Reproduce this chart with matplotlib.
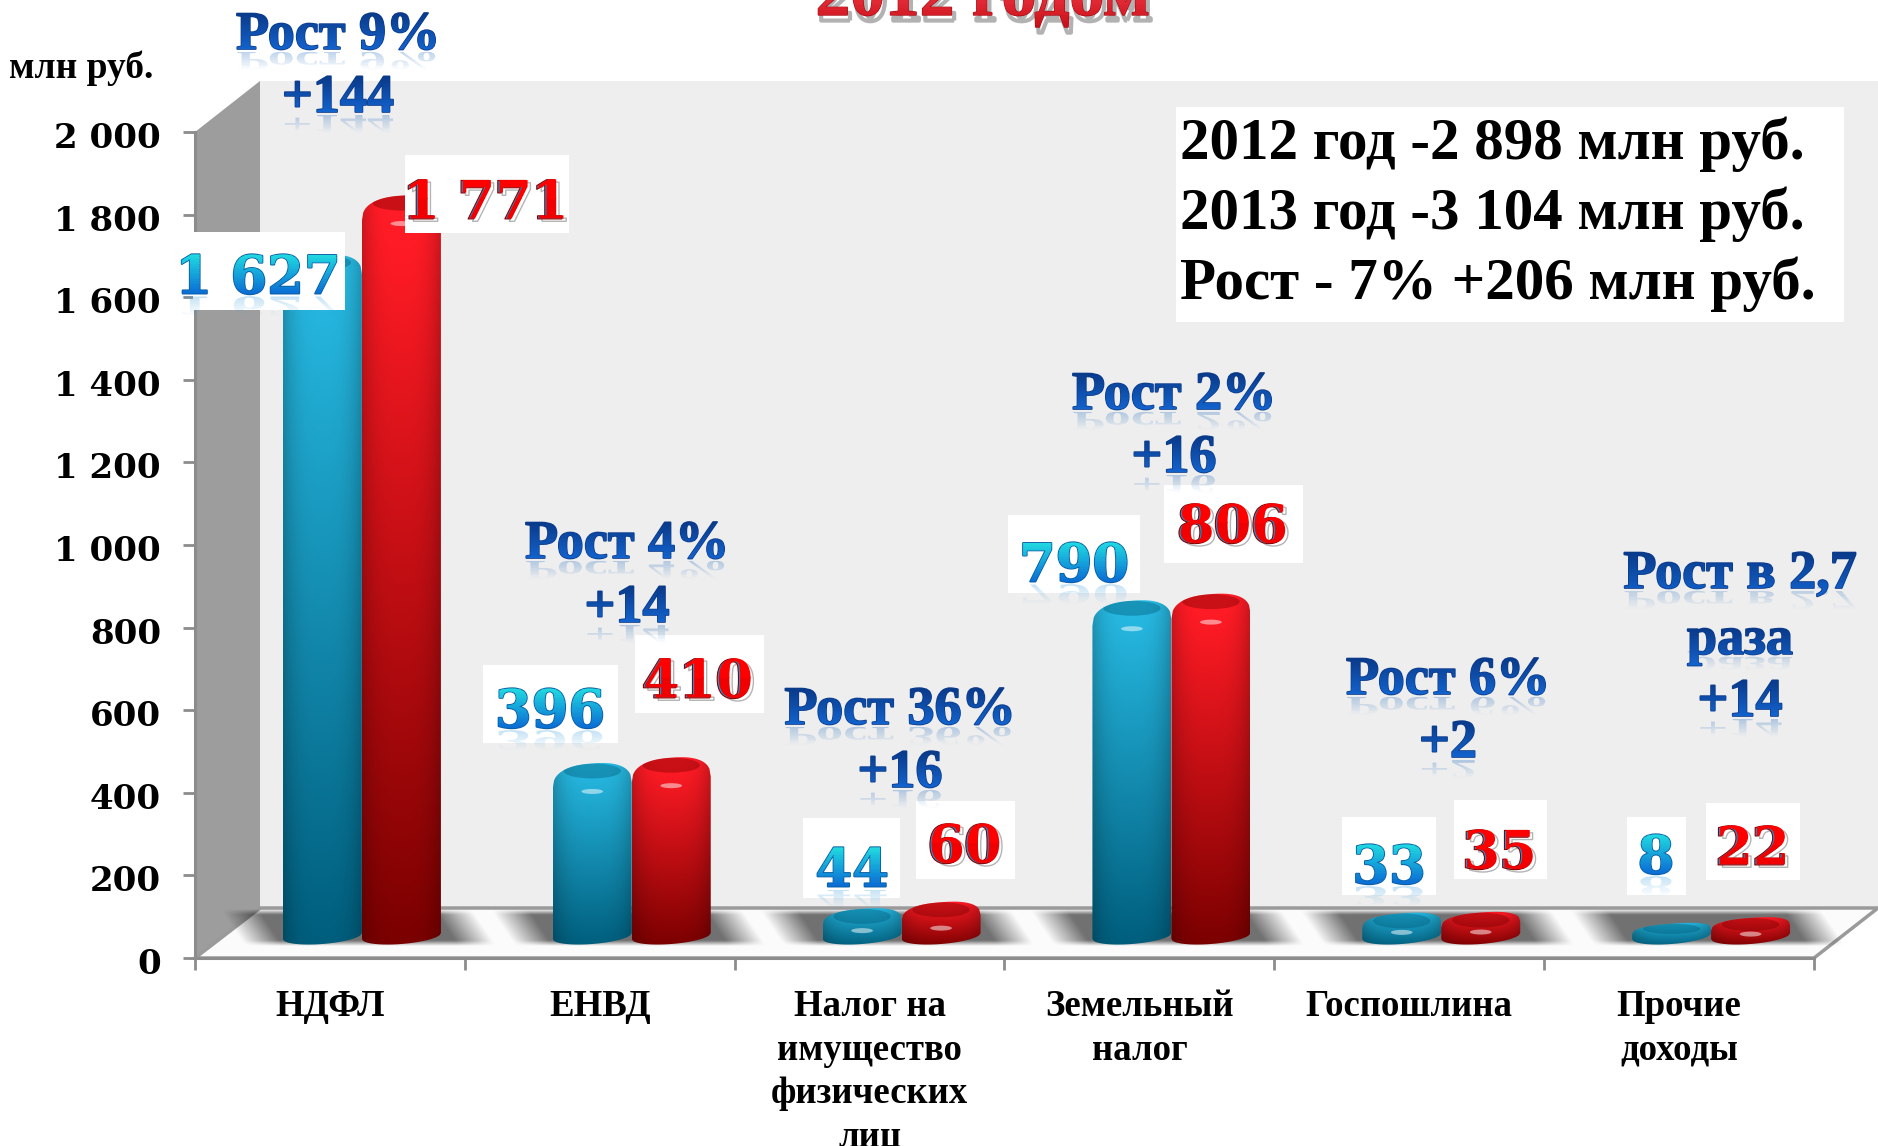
import numpy as np
import matplotlib
matplotlib.use("Agg")
import matplotlib.pyplot as plt
from matplotlib.colors import to_rgb
from matplotlib.patches import Ellipse, PathPatch, Polygon, Rectangle
from matplotlib.path import Path
from matplotlib.patheffects import AbstractPathEffect, SimpleLineShadow, Stroke
from matplotlib.transforms import Affine2D, Bbox

W, H = 1878, 1146

categories = ["НДФЛ", "ЕНВД", "Налог на\nимущество\nфизических\nлиц", "Земельный\nналог", "Госпошлина", "Прочие\nдоходы"]
values_2012 = [1627, 396, 44, 790, 33, 8]
values_2013 = [1771, 410, 60, 806, 35, 22]
growth_labels = [["Рост 9%", "+144"], ["Рост 4%", "+14"], ["Рост 36%", "+16"], ["Рост 2%", "+16"], ["Рост 6%", "+2"], ["Рост в 2,7", "раза", "+14"]]
y_ticks = [0, 200, 400, 600, 800, 1000, 1200, 1400, 1600, 1800, 2000]
y_tick_labels = ["0", "200", "400", "600", "800", "1 000", "1 200", "1 400", "1 600", "1 800", "2 000"]
summary_lines = ["2012 год -2 898 млн руб.", "2013 год -3 104 млн руб.", "Рост - 7% +206 млн руб."]

# label layout, in pixels of the picture
growth_y = [[36, 99], [545, 609], [711, 774], [396, 459], [681, 744], [575, 641, 703]]
growth_x = [338, 627, 900, 1174, 1448, 1740]
box_2012 = [(193, 232, 345, 310), (483, 665, 618, 743), (803, 818, 900, 898), (1008, 515, 1140, 593), (1342, 817, 1436, 895), (1627, 817, 1686, 895)]
box_2013 = [(405, 155, 569, 233), (635, 635, 764, 713), (916, 801, 1015, 879), (1164, 485, 1303, 563), (1454, 800, 1547, 879), (1706, 803, 1800, 880)]
text_2012 = [(258, 279), (550, 713), (852, 872), (1074, 567), (1389, 869), (1656, 859)]
text_2013 = [(486, 204), (698, 683), (965, 848), (1233, 528), (1500, 854), (1753, 850)]

SERIF = "Liberation Serif"
WIDE = "DejaVu Serif"
Y_SCALE = 826 / 2000      # pixels per value
CAT = (1814 - 195) / 6    # pixels per category


class GradFill(AbstractPathEffect):
    def __init__(self, top, bottom, bands=24):
        super().__init__()
        self.top, self.bottom, self.bands = to_rgb(top), to_rgb(bottom), bands

    def draw_path(self, renderer, gc, tpath, affine, rgbFace=None):
        box = tpath.get_extents(affine)
        step = box.height / self.bands
        for i in range(self.bands):
            f = i / max(self.bands - 1, 1)
            col = tuple(b + (t - b) * f for t, b in zip(self.top, self.bottom))
            gc0 = renderer.new_gc()
            gc0.copy_properties(gc)
            gc0.set_linewidth(0)
            y0 = box.y0 + i * step
            gc0.set_clip_rectangle(Bbox([[box.x0 - 6, y0], [box.x1 + 6, y0 + step + 1]]))
            renderer.draw_path(gc0, tpath, affine, col)
            gc0.restore()


class Reflect(AbstractPathEffect):
    def __init__(self, color, alpha=0.3, squash=0.5, gap=-3, bands=10):
        super().__init__()
        self.color, self.alpha, self.squash, self.gap, self.bands = to_rgb(color), alpha, squash, gap, bands

    def draw_path(self, renderer, gc, tpath, affine, rgbFace=None):
        flip = Affine2D().scale(1, -self.squash) + affine + Affine2D().translate(0, self.gap)
        box = tpath.get_extents(flip)
        step = box.height / self.bands
        for i in range(self.bands):
            gc0 = renderer.new_gc()
            gc0.copy_properties(gc)
            gc0.set_linewidth(0)
            gc0.set_alpha(self.alpha * (i + 0.5) / self.bands)
            y0 = box.y0 + i * step
            gc0.set_clip_rectangle(Bbox([[box.x0 - 6, y0], [box.x1 + 6, y0 + step]]))
            renderer.draw_path(gc0, tpath, flip, self.color)
            gc0.restore()


fig = plt.figure(figsize=(W / 100, H / 100), dpi=100, facecolor="white")
ax = fig.add_axes([195 / W, (H - 958) / H, (1814 - 195) / W, 826 / H])
ax.patch.set_visible(False)
ax.set_xlim(0, 6)
ax.set_ylim(0, 2000)
px = Affine2D().scale(1, -1).translate(0, H)

# walls and floor
ax.add_patch(Polygon([(260, 81), (W, 81), (W, 908), (260, 908)], transform=px, fc="#eeeeee", ec="none", zorder=0, clip_on=False))
ax.add_patch(Polygon([(195, 132), (260, 81), (260, 908), (195, 958)], transform=px, fc="#9d9d9d", ec="none", zorder=0.1, clip_on=False))
ax.add_patch(Polygon([(195, 958), (260, 908), (W, 908), (1814, 958)], transform=px, fc="#fbfbfb", ec="#9a9a9a", lw=2.5, zorder=0.2, clip_on=False))

# shadows on the floor
xs = np.linspace(-1.2, 1.2, 240)
ys = np.linspace(-1.2, 1.2, 60)
gx, gy = np.meshgrid(xs, ys)
soft = np.clip((1.0 - np.abs(gx + gy * 0.1)) / 0.3, 0, 1) * np.clip((1.0 - np.abs(gy)) / 0.3, 0, 1)
shadow = np.zeros(soft.shape + (4,))
shadow[..., 3] = 0.55 * soft
for i in range(len(categories)):
    cx = i + 0.5 + 28 / CAT
    half_x, half_y = 126 / CAT * 1.2, 45 * 1.2
    ax.imshow(shadow, extent=(cx - half_x, cx + half_x, 73 - half_y, 73 + half_y), origin="lower",
              aspect="auto", zorder=1, clip_on=False, interpolation="bilinear")


def draw_bar(cx, value, top_col, low_col):
    half = 39.5 / CAT
    base = 23 / Y_SCALE
    bump, under = 8 / Y_SCALE, 9 / Y_SCALE
    height = value + bump + under
    drop = min(22 / Y_SCALE, 0.38 * height)
    tilt = 3 / Y_SCALE
    t = np.linspace(-1, 1, 60)
    top_y = value + base + bump - drop * (1 - (1 - np.abs(t) ** 2.5) ** 0.4) + tilt * t
    low_y = base - under + 8 / Y_SCALE * (1 - np.sqrt(1 - t ** 2)) + tilt * t
    xy = np.vstack([np.column_stack([cx + half * t, low_y]),
                    np.column_stack([cx + half * t[::-1], top_y[::-1]])])
    body = PathPatch(Path(np.vstack([xy, xy[:1]])), transform=ax.transData, fc="none", ec="none")
    ax.add_patch(body)

    ny, nx = 120, 60
    fy = np.linspace(0, 1, ny)[:, None, None]
    fx = np.linspace(-1, 1, nx)[None, :, None]
    grad = np.array(to_rgb(low_col))[None, None, :] * (1 - fy) + np.array(to_rgb(top_col))[None, None, :] * fy
    grad = np.clip(grad * (1.04 - 0.22 * np.abs(fx) ** 3), 0, 1)
    y_top = value + base + bump + tilt
    y_low = base - under - tilt
    im = ax.imshow(grad, extent=(cx - half, cx + half, y_low, y_top), origin="lower", aspect="auto", zorder=3)
    im.set_clip_path(body)

    # darker top face and small highlight
    cap_h = min(15 / Y_SCALE, 0.5 * height)
    cap = Ellipse((cx, value + base + bump - cap_h / 2), 1.45 * half, cap_h, angle=0, fc=low_col, ec="none", alpha=0.4, zorder=3.1)
    ax.add_patch(cap)
    cap.set_clip_path(body)
    if value > 15:
        shine_y = value + base + bump - min(28 / Y_SCALE, 0.62 * height)
        ax.add_patch(Ellipse((cx, shine_y), 0.55 * half, 5 / Y_SCALE, fc="white", ec="none", alpha=0.5, zorder=3.2))


for i in range(len(categories)):
    mid = i + 0.5 + 32 / CAT
    draw_bar(mid - 39.5 / CAT, values_2012[i], "#27b6de", "#005a78")
    draw_bar(mid + 39.5 / CAT, values_2013[i], "#ff1c26", "#760000")

# axes
ax.set_yticks(y_ticks, y_tick_labels, fontfamily=WIDE, fontweight="bold", fontsize=24.5)
ax.set_xticks(np.arange(7), [""] * 7)
ax.set_xticks(np.arange(6) + 0.5, categories, minor=True, fontfamily=SERIF, fontweight="bold", fontsize=26.5, linespacing=1.31)
ax.tick_params(axis="y", length=8.5, width=2, color="#8c8c8c", pad=16)
ax.tick_params(axis="x", which="major", length=8.5, width=2, color="#8c8c8c")
ax.tick_params(axis="x", which="minor", length=0, pad=22.5)
for lab in ax.get_yticklabels():
    lab.set_transform(lab.get_transform() + Affine2D().translate(0, -3))
for name in ("top", "right"):
    ax.spines[name].set_visible(False)
for name in ("left", "bottom"):
    ax.spines[name].set_color("#8c8c8c")
    ax.spines[name].set_linewidth(2.2)


def put(x, y, s, **kw):
    kw.setdefault("ha", "center")
    kw.setdefault("va", "center")
    kw.setdefault("zorder", 11)
    return ax.text(x, y, s, transform=px, clip_on=False, **kw)


ax.add_patch(Rectangle((1176, 107), 668, 215, transform=px, fc="white", ec="none", zorder=10, clip_on=False))
for line, y in zip(summary_lines, [144, 214, 284]):
    put(1180, y, line, ha="left", family=SERIF, weight="bold", fontsize=42.5, color="black")

put(81, 68, "млн руб.", family=SERIF, weight="bold", fontsize=27, color="black")
put(983, 15, "2012 годом", va="baseline", family=SERIF, weight="bold", fontsize=50, color="#ee1c25",
    path_effects=[SimpleLineShadow(offset=(2, -4), shadow_color="#555555", alpha=0.45, linewidth=3),
                  Stroke(linewidth=1, foreground="#a80e16"), GradFill("#ff4a55", "#c8101a")])

blue_fx = [Reflect("#1f6ac0"), Stroke(linewidth=1.2, foreground="#0a3a8a"), GradFill("#0a3a8a", "#1262cc")]
for x, ys_line, lines in zip(growth_x, growth_y, growth_labels):
    for y, line in zip(ys_line, lines):
        put(x, y, line, family=SERIF, weight="bold", fontsize=39, color="#0d47a8", path_effects=blue_fx)

num_blue = [Reflect("#3aa0e0", alpha=0.3), Stroke(linewidth=1.4, foreground="#0b5fa5"), GradFill("#20d8e0", "#0a6cd4")]
num_red = [SimpleLineShadow(offset=(2, -2), shadow_color="#444444", alpha=0.4, linewidth=1),
           Stroke(offset=(-1.2, -0.3), linewidth=0.8, foreground="#8a0000"), GradFill("#ff0000", "#f00000", bands=2)]


def value_label(value, box, xy, effects):
    x0, y0, x1, y1 = box
    ax.add_patch(Rectangle((x0, y0), x1 - x0, y1 - y0, transform=px, fc="white", ec="none", zorder=10, clip_on=False))
    put(xy[0], xy[1], f"{value:,}".replace(",", " "), family=WIDE, weight="bold", fontsize=38, color="#1299d8", path_effects=effects)


for i in range(len(categories)):
    value_label(values_2012[i], box_2012[i], text_2012[i], num_blue)
    value_label(values_2013[i], box_2013[i], text_2013[i], num_red)

ax.set_xlim(0, 6)
ax.set_ylim(0, 2000)
fig.savefig("out.png", dpi=100)
